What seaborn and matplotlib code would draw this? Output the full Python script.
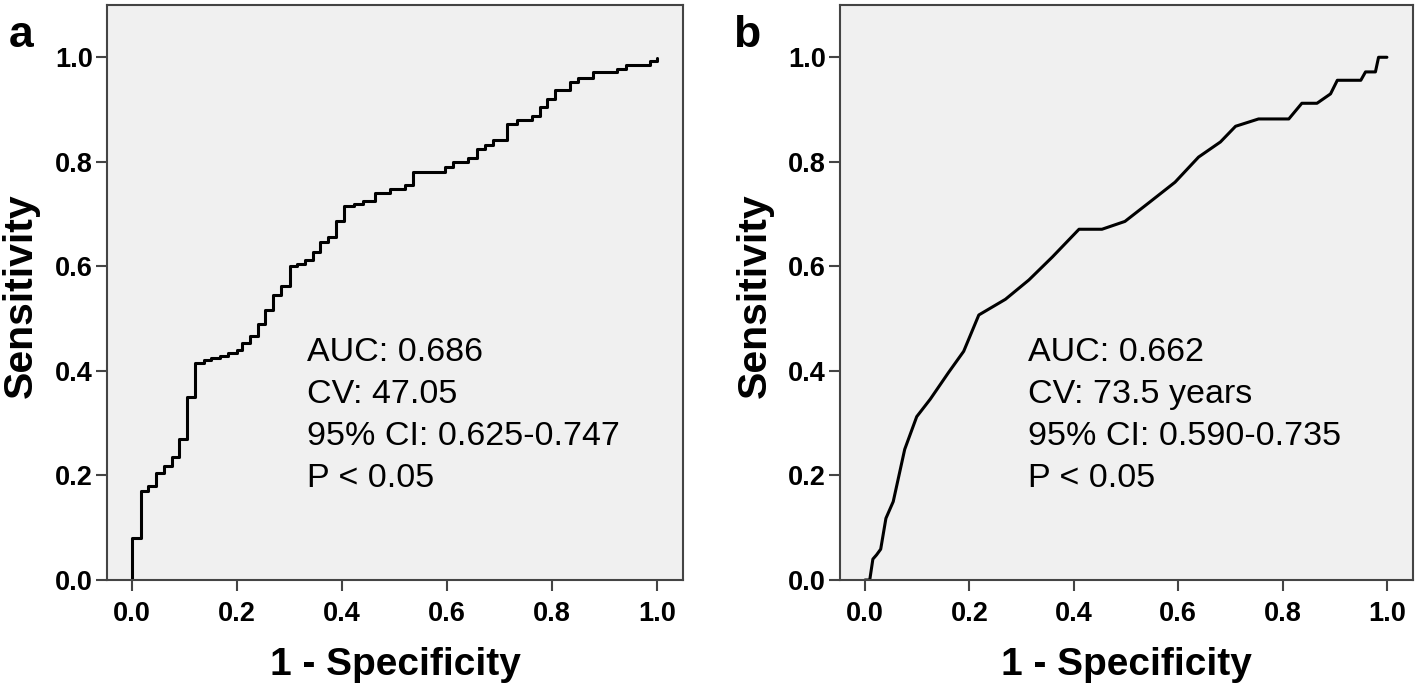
import numpy as np
import pandas as pd
import matplotlib
matplotlib.use("Agg")
import matplotlib.pyplot as plt
import seaborn as sns

# ---- data ----
a_fpr = [0.0, 0.0, 0.016, 0.03, 0.045, 0.06, 0.075, 0.09, 0.105, 0.12, 0.136, 0.15, 0.167,
         0.183, 0.2, 0.21, 0.225, 0.239, 0.253, 0.268, 0.283, 0.3, 0.314, 0.33, 0.344, 0.358,
         0.374, 0.389, 0.403, 0.422, 0.44, 0.463, 0.491, 0.52, 0.535, 0.596, 0.611, 0.64, 0.657,
         0.672, 0.688, 0.714, 0.733, 0.762, 0.777, 0.79, 0.806, 0.834, 0.85, 0.878, 0.924,
         0.942, 0.987, 1.0]
a_tpr = [0.0, 0.08, 0.17, 0.18, 0.205, 0.218, 0.235, 0.27, 0.35, 0.416, 0.42, 0.424, 0.428,
         0.435, 0.44, 0.454, 0.467, 0.49, 0.516, 0.545, 0.562, 0.6, 0.604, 0.613, 0.628, 0.647,
         0.657, 0.686, 0.715, 0.72, 0.726, 0.741, 0.748, 0.755, 0.781, 0.79, 0.8, 0.808, 0.825,
         0.832, 0.842, 0.872, 0.88, 0.887, 0.905, 0.92, 0.938, 0.953, 0.961, 0.971, 0.978,
         0.985, 0.993, 0.998]

b_fpr = [0.0, 0.009, 0.015, 0.022, 0.03, 0.04, 0.054, 0.076, 0.099, 0.125, 0.16, 0.189, 0.218,
         0.269, 0.314, 0.359, 0.41, 0.454, 0.498, 0.543, 0.594, 0.639, 0.681, 0.71, 0.754,
         0.812, 0.837, 0.866, 0.892, 0.905, 0.95, 0.959, 0.978, 0.984, 1.0]
b_tpr = [0.0, 0.0, 0.04, 0.048, 0.059, 0.118, 0.15, 0.25, 0.3125, 0.346, 0.397, 0.4375, 0.507,
         0.537, 0.574, 0.618, 0.671, 0.671, 0.686, 0.721, 0.761, 0.809, 0.838, 0.868, 0.882,
         0.882, 0.912, 0.912, 0.93, 0.956, 0.956, 0.972, 0.972, 1.0, 1.0]

ticks = [0.0, 0.2, 0.4, 0.6, 0.8, 1.0]
tick_labels = ["0.0", "0.2", "0.4", "0.6", "0.8", "1.0"]
panel_labels = ["a", "b"]
x_title = "1 - Specificity"
y_title = "Sensitivity"
texts = [["AUC: 0.686", "CV: 47.05", "95% CI: 0.625-0.747", "P < 0.05"],
         ["AUC: 0.662", "CV: 73.5 years", "95% CI: 0.590-0.735", "P < 0.05"]]

sns.set_style("ticks", {"axes.facecolor": "#f0f0f0"})
plt.rcParams["font.family"] = ["Liberation Sans", "DejaVu Sans"]
plt.rcParams["text.color"] = "black"
plt.rcParams["xtick.color"] = "#444444"
plt.rcParams["ytick.color"] = "#444444"
plt.rcParams["xtick.labelcolor"] = "black"
plt.rcParams["ytick.labelcolor"] = "black"
plt.rcParams["axes.labelcolor"] = "black"

fig = plt.figure(figsize=(14.18, 6.88), dpi=100)
axA = fig.add_axes([107/1418, 1-580/688, (683-107)/1418, (580-5)/688])
axB = fig.add_axes([840/1418, 1-580/688, (1413-840)/1418, (580-5)/688])

dfa = pd.DataFrame({"fpr": a_fpr, "tpr": a_tpr})
dfb = pd.DataFrame({"fpr": b_fpr, "tpr": b_tpr})
sns.lineplot(data=dfa, x="fpr", y="tpr", ax=axA, estimator=None, sort=False,
             color="black", lw=2.2, drawstyle="steps-post")
sns.lineplot(data=dfb, x="fpr", y="tpr", ax=axB, estimator=None, sort=False,
             color="black", lw=2.2)

for ax, lab, tx, tx_x, lab_x in [(axA, panel_labels[0], texts[0], 0.333, 9/1418),
                                 (axB, panel_labels[1], texts[1], 0.313, 733/1418)]:
    ax.set_xlim(-0.048, 1.05)
    ax.set_ylim(0.0, 1.1)
    ax.set_xticks(ticks)
    ax.set_xticklabels(tick_labels)
    ax.set_yticks(ticks)
    ax.set_yticklabels(tick_labels)
    for s in ax.spines.values():
        s.set_visible(True)
        s.set_color("#444444")
        s.set_linewidth(1.5)
    ax.tick_params(axis="both", length=8, width=1.5, labelsize=19.5)
    ax.tick_params(axis="x", pad=7)
    ax.tick_params(axis="y", pad=2)
    for t in ax.get_xticklabels() + ax.get_yticklabels():
        t.set_fontweight("bold")
    ax.set_xlabel(x_title, fontsize=28, fontweight="bold")
    ax.set_ylabel(y_title, fontsize=29.5, fontweight="bold")
    ax.xaxis.label.set_va("baseline")
    ax.xaxis.set_label_coords(0.5, (580 - 675) / 575)
    ax.yaxis.label.set_va("center")
    ax.yaxis.set_label_coords(-86 / 576, 0.494)
    for i, line in enumerate(tx):
        ax.text(tx_x, 0.419 - i * 0.0803, line, fontsize=24.5, ha="left", va="baseline",
                color="black")
    fig.text(lab_x, 1 - 47/688, lab, fontsize=32, fontweight="bold",
             ha="left", va="baseline", color="black")

fig.savefig("out.png", dpi=100)
